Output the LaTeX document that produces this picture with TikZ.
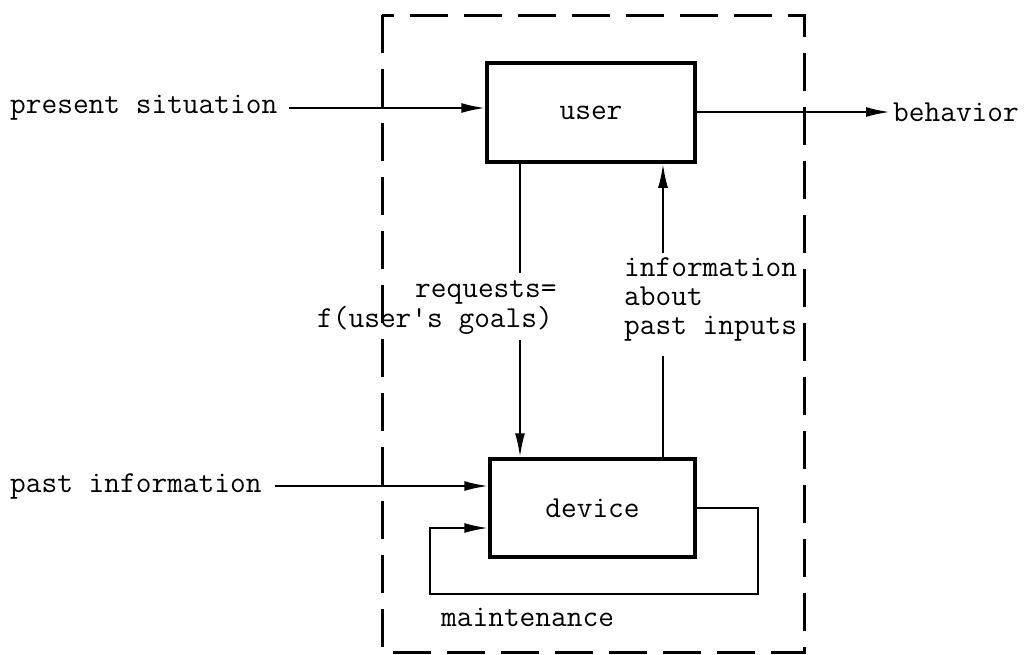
\documentclass[tikz,border=0pt]{standalone}
\usetikzlibrary{arrows.meta}

\begin{document}
\begin{tikzpicture}[
    x=1pt, y=-1pt,
    box/.style={draw, line width=3.5pt, inner sep=0pt},
    frame/.style={line width=3pt, dash pattern=on 38pt off 16pt},
    line/.style={line width=2.2pt},
    lbl/.style={anchor=west, inner sep=0pt},
    >={Latex[length=24pt, width=10pt]},
    font=\ttfamily\fontsize{30.5}{29}\selectfont
]
    \useasboundingbox (0,0) rectangle (1033,654);

    % 虚线框
    \draw[frame] (382,15) rectangle (804,652);

    % 节点定义 (2个方框)
    \node[box, minimum width=208pt, minimum height=99pt] (user) at (591,112.5) {user};     % 上方框
    \node[box, minimum width=205pt, minimum height=98pt] (device) at (592.5,508) {device}; % 下方框

    % 文字标签
    \node[lbl] (psit) at (10,108) {present situation};
    \node[lbl] (beh) at (893,112) {behavior};
    \node[lbl] (pinfo) at (10,486) {past information};
    \node[lbl] (req1) at (415,292) {requests=};
    \node[lbl] (req2) at (317,320) {f(user\textquotesingle s goals)};
    \node[lbl, align=left] (info) at (624,299) {information\\about\\past inputs};
    \node[lbl] (maint) at (441,617) {maintenance};

    % --- 外部输入与输出 ---
    \draw[line, ->, shorten <=12pt] (psit.east) -- (psit.east -| user.west);
    \draw[line, ->, shorten >=3pt] (user.east |- beh.west) -- (beh.west);
    \draw[line, ->, shorten <=13pt] (pinfo.east) -- (pinfo.east -| device.west);

    % --- user 与 device 之间的边 (中间断开写字) ---
    \coordinate (reqTop) at (520,273);
    \coordinate (reqBot) at (520,340);
    \draw[line] (user.south -| reqTop) -- (reqTop);
    \draw[line, ->] (reqBot) -- (device.north -| reqBot);

    \coordinate (infTop) at (663,253);
    \coordinate (infBot) at (663,356);
    \draw[line] (device.north -| infBot) -- (infBot);
    \draw[line, ->] (infTop) -- (user.south -| infTop);

    % --- device 的回路 ---
    \coordinate (mR) at (758,594);
    \coordinate (mL) at (430,594);
    \draw[line, ->] (device.east) -| (mR) -- (mL) |- ([yshift=-20pt]device.west);

\end{tikzpicture}
\end{document}
